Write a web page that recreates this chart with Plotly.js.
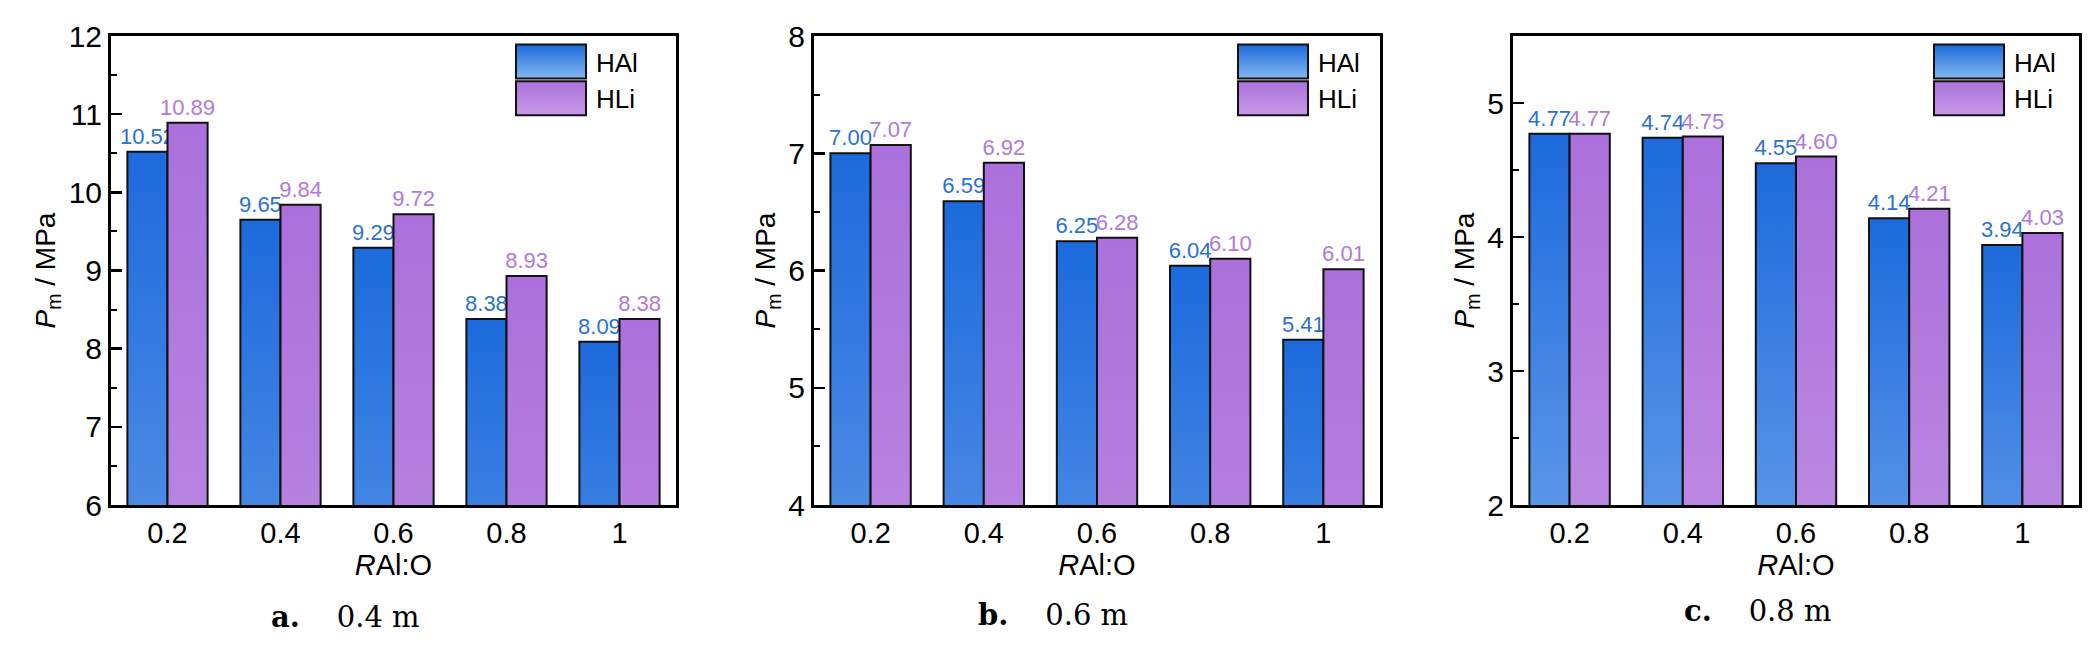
<!DOCTYPE html>
<html>
<head>
<meta charset="utf-8">
<script src="https://cdn.plot.ly/plotly-3.0.1.min.js"></script>
<style>
  html, body { margin: 0; padding: 0; background: #fff; }
  #chart { width: 2098px; height: 654px; }
</style>
</head>
<body>
<div id="chart"></div>
<script>
// RAl:O ratios on the x axis
const ratios = ['0.2', '0.4', '0.6', '0.8', '1'];

// Pm (MPa) at 0.4 m
const hal04 = [10.52, 9.65, 9.29, 8.38, 8.09];
const hli04 = [10.89, 9.84, 9.72, 8.93, 8.38];
// Pm (MPa) at 0.6 m
const hal06 = [7.00, 6.59, 6.25, 6.04, 5.41];
const hli06 = [7.07, 6.92, 6.28, 6.10, 6.01];
// Pm (MPa) at 0.8 m
const hal08 = [4.77, 4.74, 4.55, 4.14, 3.94];
const hli08 = [4.77, 4.75, 4.60, 4.21, 4.03];

const panelTitles = ['0.4 m', '0.6 m', '0.8 m'];
const panelLetters = ['a.', 'b.', 'c.'];

const sans = '"Liberation Sans", Arial, sans-serif';
const serif = '"DejaVu Serif", "Liberation Serif", serif';

const colors = {
    HAl: { top: '#1c6adc', bottom: '#86b5f1', label: '#2a72d2' },
    HLi: { top: '#ab70db', bottom: '#c69ae8', label: '#b07ad9' }
};

const makeBar = (name, y, n) => {
    const sfx = n === 1 ? '' : String(n);
    return {
        type: 'bar',
        name: name,
        x: ratios,
        y: y,
        xaxis: 'x' + sfx,
        yaxis: 'y' + sfx,
        legend: 'legend' + sfx,
        texttemplate: '%{y:.2f}',
        textposition: 'outside',
        constraintext: 'none',
        cliponaxis: false,
        textfont: { family: sans, size: 22, color: colors[name].label },
        marker: {
            color: colors[name].top,
            line: { color: '#111', width: 2 }
        }
    };
};

const data = [
    makeBar('HAl', hal04, 1), makeBar('HLi', hli04, 1),
    makeBar('HAl', hal06, 2), makeBar('HLi', hli06, 2),
    makeBar('HAl', hal08, 3), makeBar('HLi', hli08, 3)
];

const W = 2098, H = 654;
const xDomains = [[111 / W, 676 / W], [814 / W, 1380 / W], [1513 / W, 2079 / W]];
const yDomain = [1 - 505 / H, 1 - 36 / H];
const yRanges = [[6, 12], [4, 8], [2, 5.5]];

const xAxis = (i) => ({
    domain: xDomains[i],
    anchor: i === 0 ? 'y' : 'y' + (i + 1),
    type: 'category',
    range: [-0.5, 4.5],
    showline: true, mirror: true, linewidth: 3, linecolor: '#000',
    ticks: '', showgrid: false, zeroline: false,
    tickfont: { family: sans, size: 29, color: '#000' },
    title: { text: '<i>R</i>Al:O', standoff: 7, font: { family: sans, size: 29, color: '#000' } }
});

const yAxis = (i) => ({
    domain: yDomain,
    anchor: i === 0 ? 'x' : 'x' + (i + 1),
    range: yRanges[i],
    dtick: 1,
    showline: true, mirror: true, linewidth: 3, linecolor: '#000',
    ticks: 'inside', ticklen: 11, tickwidth: 2.5, tickcolor: '#000',
    minor: { dtick: 0.5, ticks: 'inside', ticklen: 6, tickwidth: 2, tickcolor: '#000' },
    showgrid: false, zeroline: false,
    tickfont: { family: sans, size: 30, color: '#000' },
    title: { text: '<i>P</i><sub>m</sub> / MPa', standoff: 5, font: { family: sans, size: 28, color: '#000' } }
});

const legendAt = (px) => ({
    x: px / W, xanchor: 'left',
    y: 1 - 38 / H, yanchor: 'top',
    bgcolor: 'rgba(0,0,0,0)',
    borderwidth: 0,
    itemwidth: 80,
    font: { family: sans, size: 26, color: '#000' }
});

const subtitleAt = (i, px, py) => ({
    xref: 'paper', yref: 'paper',
    x: px / W, y: 1 - py / H,
    xanchor: 'center', yanchor: 'middle',
    showarrow: false,
    text: '<b>' + panelLetters[i] + '</b>\u00a0\u00a0\u00a0\u00a0' + panelTitles[i],
    font: { family: serif, size: 29, color: '#000' }
});

const layout = {
    width: W,
    height: H,
    margin: { l: 0, r: 0, t: 0, b: 0 },
    paper_bgcolor: '#fff',
    plot_bgcolor: '#fff',
    barmode: 'group',
    bargap: 0.29,
    bargroupgap: 0,
    showlegend: true,
    xaxis: xAxis(0), xaxis2: xAxis(1), xaxis3: xAxis(2),
    yaxis: yAxis(0), yaxis2: yAxis(1), yaxis3: yAxis(2),
    legend: legendAt(506), legend2: legendAt(1228), legend3: legendAt(1924),
    annotations: [
        subtitleAt(0, 345, 617),
        subtitleAt(1, 1053, 615),
        subtitleAt(2, 1757, 611)
    ]
};

const ns = 'http://www.w3.org/2000/svg';
let painting = false;

// plotly has no gradient fill for bars, so swap the fills for svg gradients afterwards
const paintGradients = (gd) => {
    painting = true;
    if (!document.getElementById('gradHAl')) {
        const defs = document.createElementNS(ns, 'defs');
        for (const name of Object.keys(colors)) {
            const lg = document.createElementNS(ns, 'linearGradient');
            lg.setAttribute('id', 'grad' + name);
            lg.setAttribute('x1', '0'); lg.setAttribute('y1', '0');
            lg.setAttribute('x2', '0'); lg.setAttribute('y2', '1');
            [['0', colors[name].top], ['1', colors[name].bottom]].forEach(([off, c]) => {
                const st = document.createElementNS(ns, 'stop');
                st.setAttribute('offset', off);
                st.setAttribute('stop-color', c);
                lg.appendChild(st);
            });
            defs.appendChild(lg);
        }
        gd.querySelector('.main-svg').appendChild(defs);
    }

    gd.querySelectorAll('.barlayer g.trace').forEach((g) => {
        const cd = g.__data__;
        if (!cd || !cd[0] || !cd[0].trace) return;
        const name = cd[0].trace.name;
        g.querySelectorAll('.point path').forEach((p) => { p.style.fill = 'url(#grad' + name + ')'; });
    });

    // legend swatches -> the big outlined boxes of the original
    // (text class is legendtext / legend2text / legend3text)
    gd.querySelectorAll('g.traces').forEach((g) => {
        const txt = g.querySelector('text');
        if (!txt) return;
        const name = txt.textContent.trim();
        if (!colors[name]) return;
        g.querySelectorAll('g.legendpoints path').forEach((p) => {
            if (p.getAttribute('d') !== 'M35,17H-35V-17H35Z') p.setAttribute('d', 'M35,17H-35V-17H35Z');
            p.style.fill = 'url(#grad' + name + ')';
            p.style.stroke = '#111';
            p.style.strokeWidth = '2px';
        });
    });
    painting = false;
};

const gd = document.getElementById('chart');
Plotly.newPlot(gd, data, layout, { staticPlot: true }).then(() => {
    paintGradients(gd);
    new MutationObserver(() => { if (!painting) paintGradients(gd); })
        .observe(gd, { childList: true, subtree: true });
});
</script>
</body>
</html>
